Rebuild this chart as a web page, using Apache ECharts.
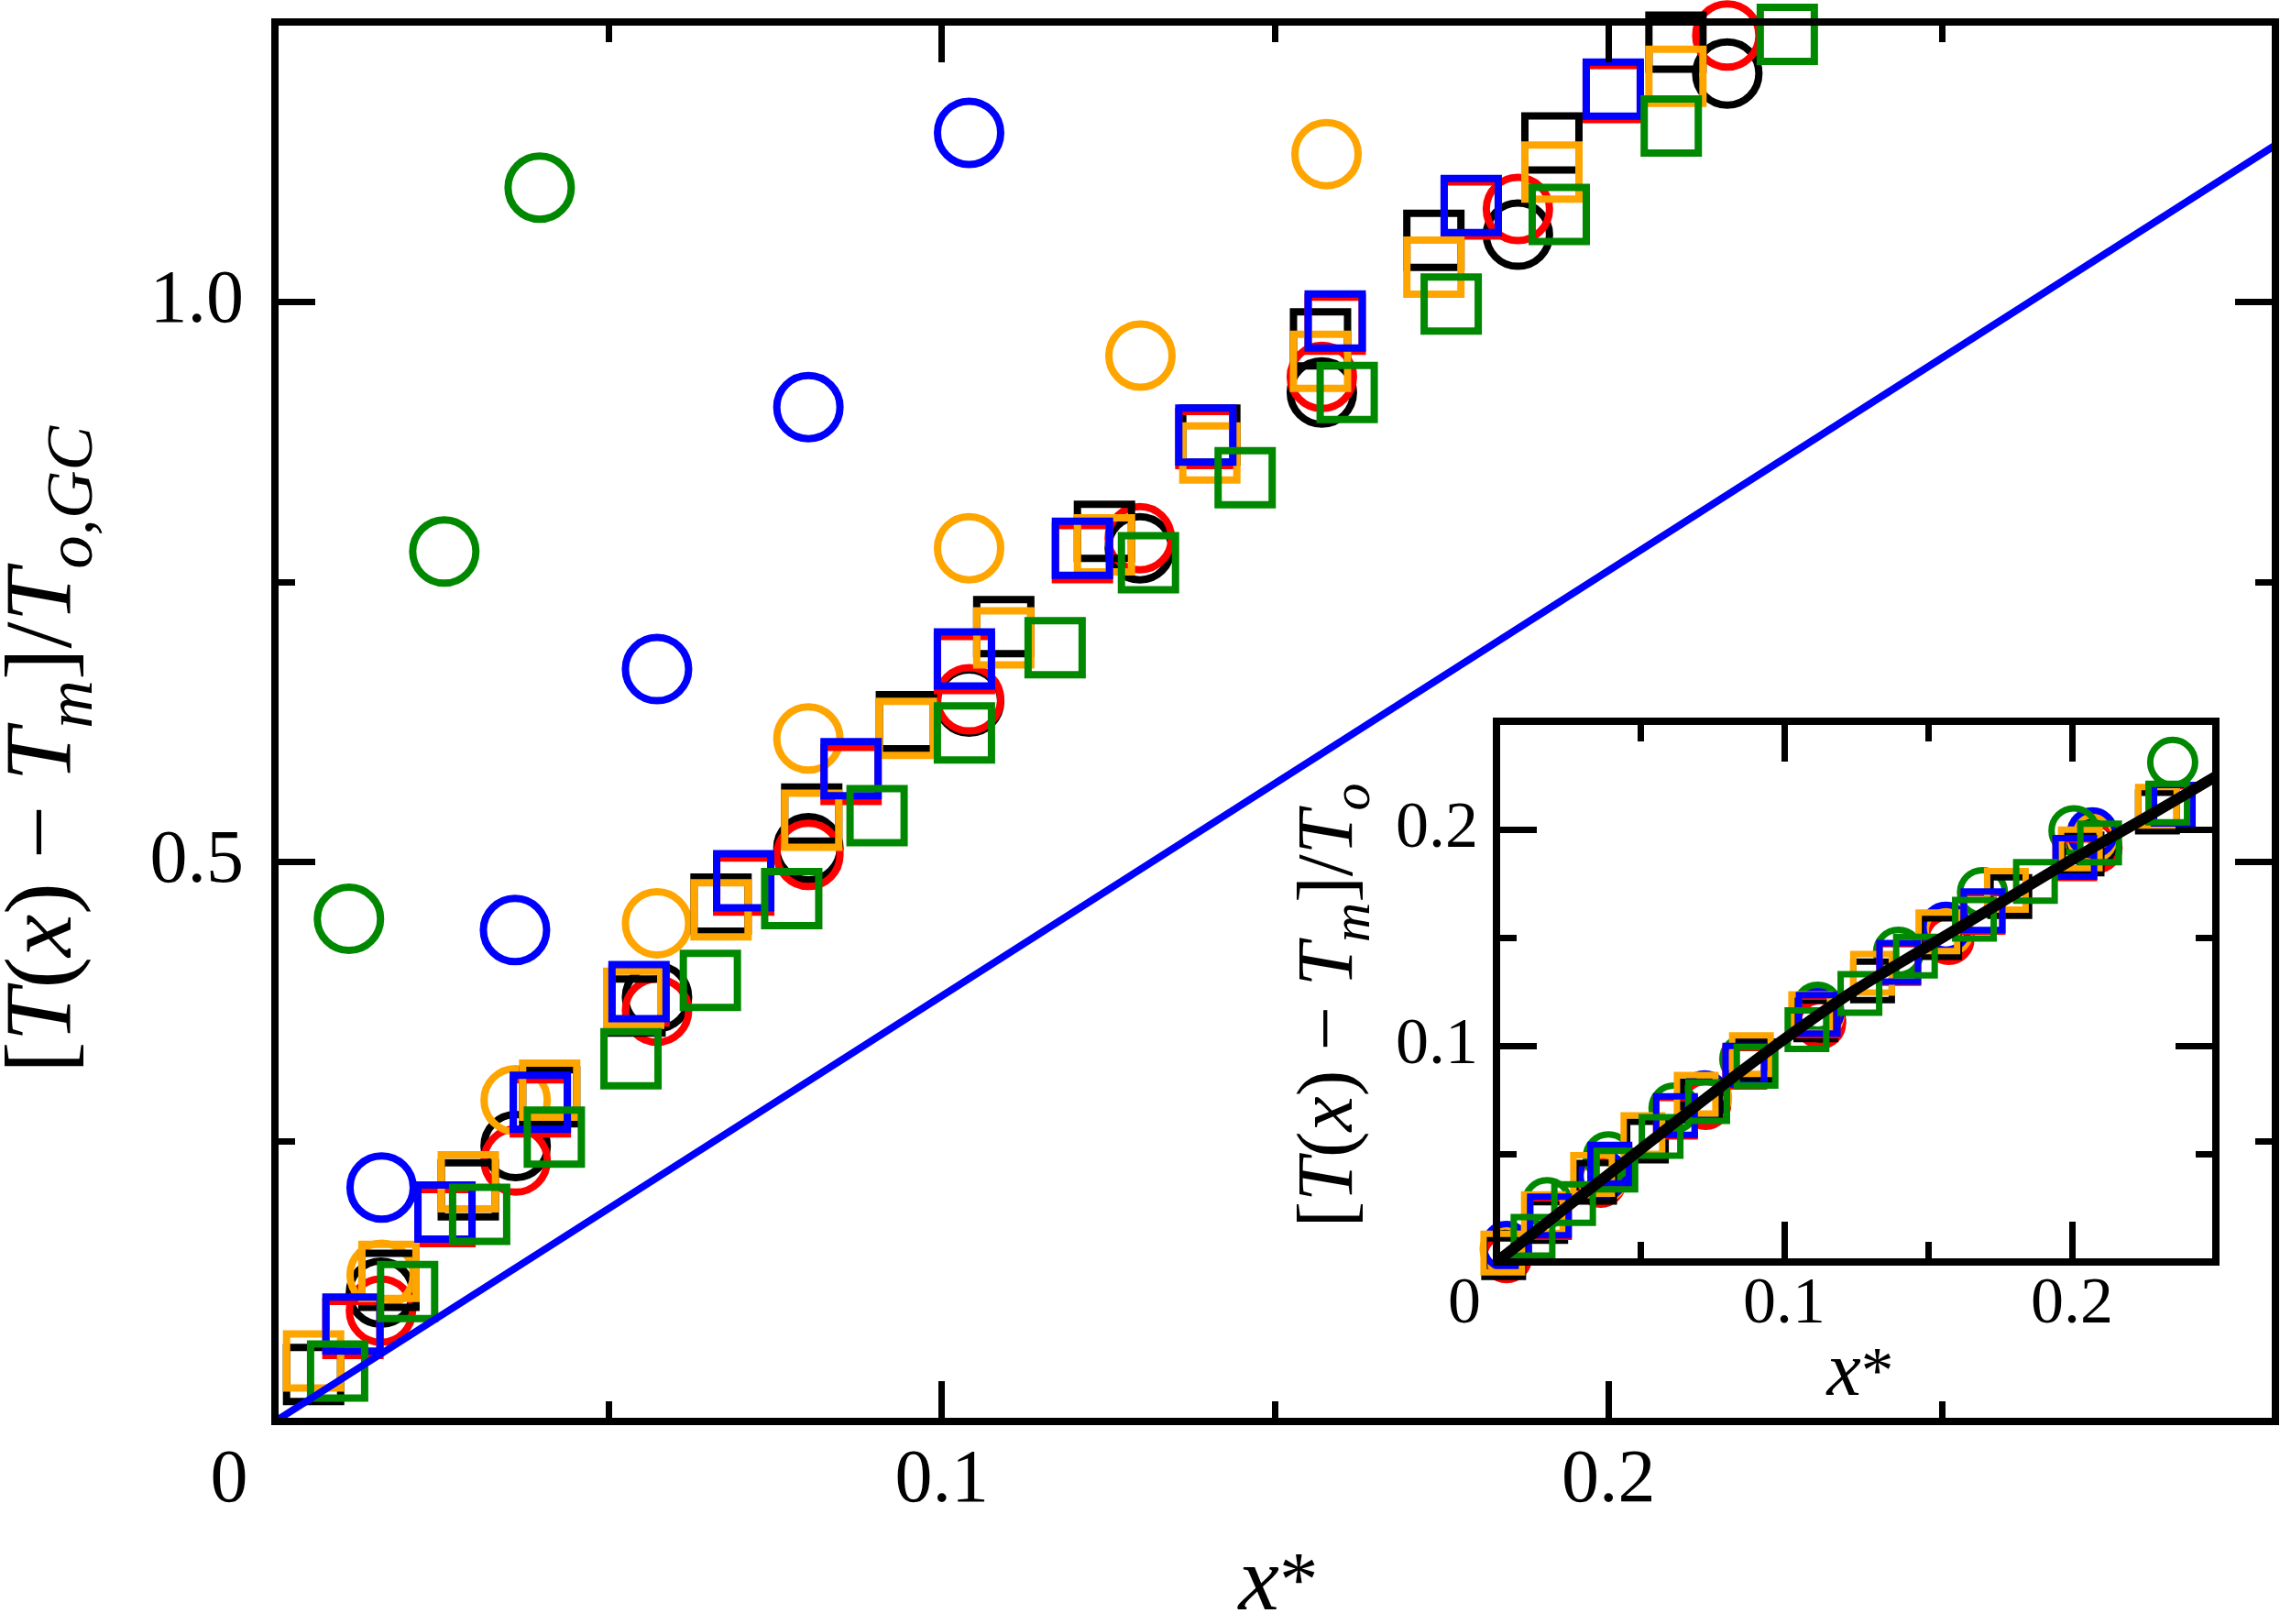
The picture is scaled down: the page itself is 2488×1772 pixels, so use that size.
<!DOCTYPE html>
<html><head><meta charset="utf-8">
<script src="https://cdn.jsdelivr.net/npm/echarts@6/dist/echarts.min.js"></script>
<style>html,body{margin:0;padding:0;background:#fff}#c{width:2488px;height:1772px}</style>
</head><body><div id="c"></div>
<script>
// ---------- main panel data ----------
const mainBlackCircles = [[0.0159,0.115],[0.0361,0.246],[0.0573,0.379],[0.080,0.512],[0.1041,0.643],[0.1297,0.780],[0.157,0.919],[0.1864,1.060],[0.2178,1.204]];
const mainRedCircles = [[0.0159,0.099],[0.0361,0.233],[0.0573,0.367],[0.080,0.506],[0.1041,0.645],[0.1297,0.789],[0.157,0.933],[0.1864,1.083],[0.2178,1.238]];
const mainOrangeCircles = [[0.016,0.131],[0.0361,0.287],[0.0573,0.445],[0.080,0.610],[0.1041,0.780],[0.1298,0.952],[0.1577,1.132]];
const mainBlueCircles = [[0.016,0.209],[0.036,0.439],[0.0573,0.672],[0.080,0.906],[0.1041,1.151]];
const mainGreenCircles = [[0.0111,0.449],[0.0254,0.777],[0.0397,1.102]];
const mainBlackSquares = [[0.0058,0.042],[0.0171,0.126],[0.029,0.207],[0.0412,0.290],[0.054,0.371],[0.0669,0.462],[0.0805,0.5425],[0.0947,0.625],[0.1093,0.710],[0.1244,0.795],[0.1402,0.881],[0.1568,0.967],[0.1738,1.055],[0.1915,1.142],[0.2101,1.232]];
const mainOrangeSquares = [[0.0058,0.054],[0.0171,0.134],[0.029,0.214],[0.0412,0.296],[0.0538,0.378],[0.0669,0.457],[0.0805,0.537],[0.0947,0.619],[0.1093,0.700],[0.1244,0.783],[0.1402,0.865],[0.1568,0.947],[0.1738,1.031],[0.1915,1.116],[0.2101,1.2016]];
const mainBlueSquares = [[0.0117,0.087],[0.0255,0.187],[0.0398,0.285],[0.0546,0.384],[0.0703,0.483],[0.0864,0.583],[0.1034,0.681],[0.1211,0.780],[0.1396,0.881],[0.159,0.983],[0.1794,1.086],[0.2007,1.190]];
const mainRedSquares = [[0.0117,0.083],[0.0255,0.183],[0.0398,0.281],[0.0546,0.380],[0.0703,0.479],[0.0864,0.578],[0.1034,0.677],[0.1211,0.776],[0.1396,0.878],[0.159,0.980],[0.1794,1.083],[0.2007,1.187]];
const mainGreenSquares = [[0.0094,0.045],[0.0199,0.116],[0.0307,0.185],[0.0419,0.254],[0.0534,0.324],[0.0653,0.394],[0.0775,0.467],[0.0903,0.541],[0.1034,0.615],[0.117,0.691],[0.131,0.767],[0.1455,0.843],[0.1608,0.919],[0.1764,0.998],[0.1926,1.078],[0.2094,1.157],[0.2268,1.239]];
const mainLine = [[0,0],[0.3,1.14]];

// ---------- inset data ----------
const insetBlackCircles = [[0.0035,0.004],[0.0362,0.0385],[0.0727,0.0745],[0.1126,0.1118],[0.1572,0.151],[0.207,0.193]];
const insetRedCircles = [[0.0035,0.002],[0.0362,0.0369],[0.0727,0.0729],[0.1126,0.1103],[0.1572,0.1492],[0.2087,0.1915]];
const insetOrangeCircles = [[0.003,0.006],[0.037,0.039],[0.073,0.076],[0.112,0.114],[0.157,0.153],[0.207,0.196]];
const insetBlueCircles = [[0.0035,0.0072],[0.037,0.040],[0.0723,0.0768],[0.112,0.1155],[0.1562,0.1548],[0.2071,0.1984]];
const insetGreenCircles = [[0.0176,0.0274],[0.0389,0.0486],[0.0617,0.0712],[0.0863,0.0938],[0.1116,0.1178],[0.1397,0.1432],[0.1689,0.1708],[0.2007,0.1994],[0.235,0.231]];
const insetBlackSquares = [[0.0025,0.002],[0.0171,0.0188],[0.0341,0.0369],[0.0521,0.0559],[0.071,0.0745],[0.09,0.093],[0.111,0.112],[0.1307,0.130],[0.154,0.150],[0.1784,0.169],[0.2035,0.1887],[0.2297,0.208]];
const insetOrangeSquares = [[0.0022,0.0041],[0.0163,0.0223],[0.0334,0.0405],[0.0509,0.0589],[0.0694,0.0775],[0.0886,0.0959],[0.1092,0.1148],[0.1307,0.1335],[0.1534,0.1527],[0.1772,0.1718],[0.2029,0.1910],[0.2297,0.2107]];
const insetBlueSquares = [[0.0184,0.0213],[0.0394,0.0452],[0.0622,0.0677],[0.0863,0.0910],[0.1118,0.1145],[0.1398,0.1386],[0.1691,0.1624],[0.201,0.1871],[0.2352,0.2117]];
const insetRedSquares = [[0.0184,0.0205],[0.0394,0.0445],[0.0622,0.067],[0.0863,0.090],[0.1118,0.1138],[0.1398,0.138],[0.1691,0.1617],[0.201,0.1864],[0.2352,0.211]];
const insetGreenSquares = [[0.0127,0.0119],[0.0268,0.027],[0.0415,0.0425],[0.0572,0.058],[0.0734,0.0742],[0.0902,0.0905],[0.1079,0.1074],[0.1263,0.1242],[0.1456,0.1414],[0.1661,0.1585],[0.1873,0.176],[0.2096,0.1938],[0.2333,0.2122]];
const insetCurve = [[0,0],[0.025,0.026],[0.05,0.052],[0.075,0.078],[0.1,0.103],[0.125,0.126],[0.15,0.146],[0.175,0.166],[0.2,0.186],[0.225,0.205],[0.25,0.2245]];

// ---------- axis ranges / ticks ----------
const mainX = {min: 0, max: 0.3, major: 0.1, minor: 0.05};
const mainY = {min: 0, max: 1.25, major: 0.5, minor: 0.25};
const insetX = {min: 0, max: 0.25, major: 0.1, minor: 0.05};
const insetY = {min: 0, max: 0.25, major: 0.1, minor: 0.05};

const FONT = "'Liberation Serif', 'Times New Roman', Times, serif";
const C = {black:'#000000', red:'#ff0000', blue:'#0000ff', orange:'#ffa500', green:'#008800'};
const FRAME = 8;

function axis(grid, pos, rng, major, line, label) {
  return {
    type: 'value', gridIndex: grid, position: pos, min: rng.min, max: rng.max,
    interval: major ? rng.major : rng.minor,
    axisLine: { show: line, onZero: false, lineStyle: { color: '#000', width: FRAME, cap: 'square' } },
    axisTick: { show: true, inside: true, length: major ? 44 : 22, lineStyle: { color: '#000', width: 7 } },
    minorTick: { show: false }, splitLine: { show: false }, minorSplitLine: { show: false },
    axisLabel: label ? Object.assign({ show: true, color: '#000', fontFamily: FONT, hideOverlap: false }, label) : { show: false },
    silent: true, z: 10
  };
}
const fmt1 = v => v.toFixed(1);
const mainXLabel = { fontSize: 82, margin: 24,
  formatter: v => Math.abs(v) < 1e-9 ? '{z|0}' : (v > 0.25 ? '' : fmt1(v)),
  rich: { z: { fontSize: 82, fontFamily: FONT, color: '#000', padding: [0, 100, 0, 0] } } };
const mainYLabel = { fontSize: 82, margin: 34, formatter: v => (v > 0.01 && v < 1.1) ? fmt1(v) : '' };
const insetXLabel = { fontSize: 72, margin: 11,
  formatter: v => Math.abs(v) < 1e-9 ? '{z|0}' : (v > 0.21 ? '' : fmt1(v)),
  rich: { z: { fontSize: 72, fontFamily: FONT, color: '#000', padding: [0, 70, 0, 0] } } };
const insetYLabel = { fontSize: 72, margin: 20, formatter: v => (v > 0.01 && v < 0.21) ? fmt1(v) : '' };

const xAxes = [
  axis(0, 'bottom', mainX, true, true, mainXLabel),
  axis(0, 'bottom', mainX, false, false, null),
  axis(0, 'top', mainX, true, true, null),
  axis(0, 'top', mainX, false, false, null),
  axis(1, 'bottom', insetX, true, true, insetXLabel),
  axis(1, 'bottom', insetX, false, false, null),
  axis(1, 'top', insetX, true, true, null),
  axis(1, 'top', insetX, false, false, null)
];
const yAxes = [
  axis(0, 'left', mainY, true, true, mainYLabel),
  axis(0, 'left', mainY, false, false, null),
  axis(0, 'right', mainY, true, true, null),
  axis(0, 'right', mainY, false, false, null),
  axis(1, 'left', insetY, true, true, insetYLabel),
  axis(1, 'left', insetY, false, false, null),
  axis(1, 'right', insetY, true, true, null),
  axis(1, 'right', insetY, false, false, null)
];

function sc(data, ax, sym, size, color, bw) {
  return { type: 'scatter', xAxisIndex: ax, yAxisIndex: ax, data: data, symbol: sym, symbolSize: size,
    clip: false, silent: true, animation: false, z: 2,
    itemStyle: { color: 'rgba(0,0,0,0)', borderColor: color, borderWidth: bw, opacity: 1 },
    emphasis: { disabled: true } };
}
const MC = 69, MS = 59, MB = 8;   // main circle / square sizes, stroke
const IC = 49, IS = 42, IB = 7;   // inset
const series = [
  sc(mainBlackCircles, 0, 'circle', MC, C.black, MB),
  sc(mainRedCircles, 0, 'circle', MC, C.red, MB),
  sc(mainOrangeCircles, 0, 'circle', MC, C.orange, MB),
  sc(mainBlueCircles, 0, 'circle', MC, C.blue, MB),
  sc(mainGreenCircles, 0, 'circle', MC, C.green, MB),
  sc(mainBlackSquares, 0, 'rect', MS, C.black, MB),
  sc(mainRedSquares, 0, 'rect', MS, C.red, MB),
  sc(mainOrangeSquares, 0, 'rect', MS, C.orange, MB),
  sc(mainBlueSquares, 0, 'rect', MS, C.blue, MB),
  sc(mainGreenSquares, 0, 'rect', MS, C.green, MB),
  { type: 'line', xAxisIndex: 0, yAxisIndex: 0, data: mainLine, symbol: 'none', silent: true, animation: false, z: 5,
    lineStyle: { color: C.blue, width: 8 } },
  sc(insetBlackCircles, 4, 'circle', IC, C.black, IB),
  sc(insetRedCircles, 4, 'circle', IC, C.red, IB),
  sc(insetOrangeCircles, 4, 'circle', IC, C.orange, IB),
  sc(insetBlueCircles, 4, 'circle', IC, C.blue, IB),
  sc(insetGreenCircles, 4, 'circle', IC, C.green, IB),
  sc(insetBlackSquares, 4, 'rect', IS, C.black, IB),
  sc(insetRedSquares, 4, 'rect', IS, C.red, IB),
  sc(insetOrangeSquares, 4, 'rect', IS, C.orange, IB),
  sc(insetBlueSquares, 4, 'rect', IS, C.blue, IB),
  sc(insetGreenSquares, 4, 'rect', IS, C.green, IB),
  { type: 'line', xAxisIndex: 4, yAxisIndex: 4, data: insetCurve, symbol: 'none', smooth: 0.3, silent: true, animation: false, z: 5,
    lineStyle: { color: '#000', width: 12 } }
];

function rich(fs) {
  return {
    n: { fontFamily: FONT, fontSize: fs, lineHeight: fs * 1.3, verticalAlign: 'middle', fill: '#000', color: '#000' },
    i: { fontFamily: FONT, fontStyle: 'italic', fontSize: fs, lineHeight: fs * 1.3, verticalAlign: 'middle', fill: '#000', color: '#000' },
    s: { fontFamily: FONT, fontStyle: 'italic', fontSize: fs * 0.7, lineHeight: fs * 0.7, verticalAlign: 'bottom', fill: '#000', color: '#000' },
    a: { fontFamily: FONT, fontSize: fs * 0.85, lineHeight: fs * 1.3, verticalAlign: 'middle', fill: '#000', color: '#000' }
  };
}
const mainYTitle = '{n|[}{i|T}{n|(}{i|x}{n|) − }{i|T}{s|m}{n|]/}{i|T}{s|o,GC}';
const insetYTitle = '{n|[}{i|T}{n|(}{i|x}{n|) − }{i|T}{s|m}{n|]/}{i|T}{s|o}';
const xTitle = '{i|x}{a|*}';

const chart = echarts.init(document.getElementById('c'), null, { renderer: 'canvas', width: 2488, height: 1772 });
chart.setOption({
  animation: false,
  backgroundColor: '#ffffff',
  grid: [
    { left: 300, top: 24, width: 2183, height: 1527, containLabel: false, outerBoundsMode: 'none', show: false },
    { left: 1633, top: 787, width: 785, height: 590, containLabel: false, outerBoundsMode: 'none', show: true, backgroundColor: '#ffffff', borderWidth: 0 }
  ],
  xAxis: xAxes,
  yAxis: yAxes,
  series: series,
  graphic: [
    { type: 'text', x: 50, y: 818, rotation: Math.PI / 2, silent: true, z: 20,
      style: { text: mainYTitle, rich: rich(104), align: 'center', verticalAlign: 'middle' } },
    { type: 'text', x: 1395, y: 1730, silent: true, z: 20,
      style: { text: xTitle, rich: rich(100), align: 'center', verticalAlign: 'middle' } },
    { type: 'text', x: 1452, y: 1097, rotation: Math.PI / 2, silent: true, z: 20,
      style: { text: insetYTitle, rich: rich(86), align: 'center', verticalAlign: 'middle' } },
    { type: 'text', x: 2030, y: 1500, silent: true, z: 20,
      style: { text: xTitle, rich: rich(84), align: 'center', verticalAlign: 'middle' } }
  ]
});
</script></body></html>
